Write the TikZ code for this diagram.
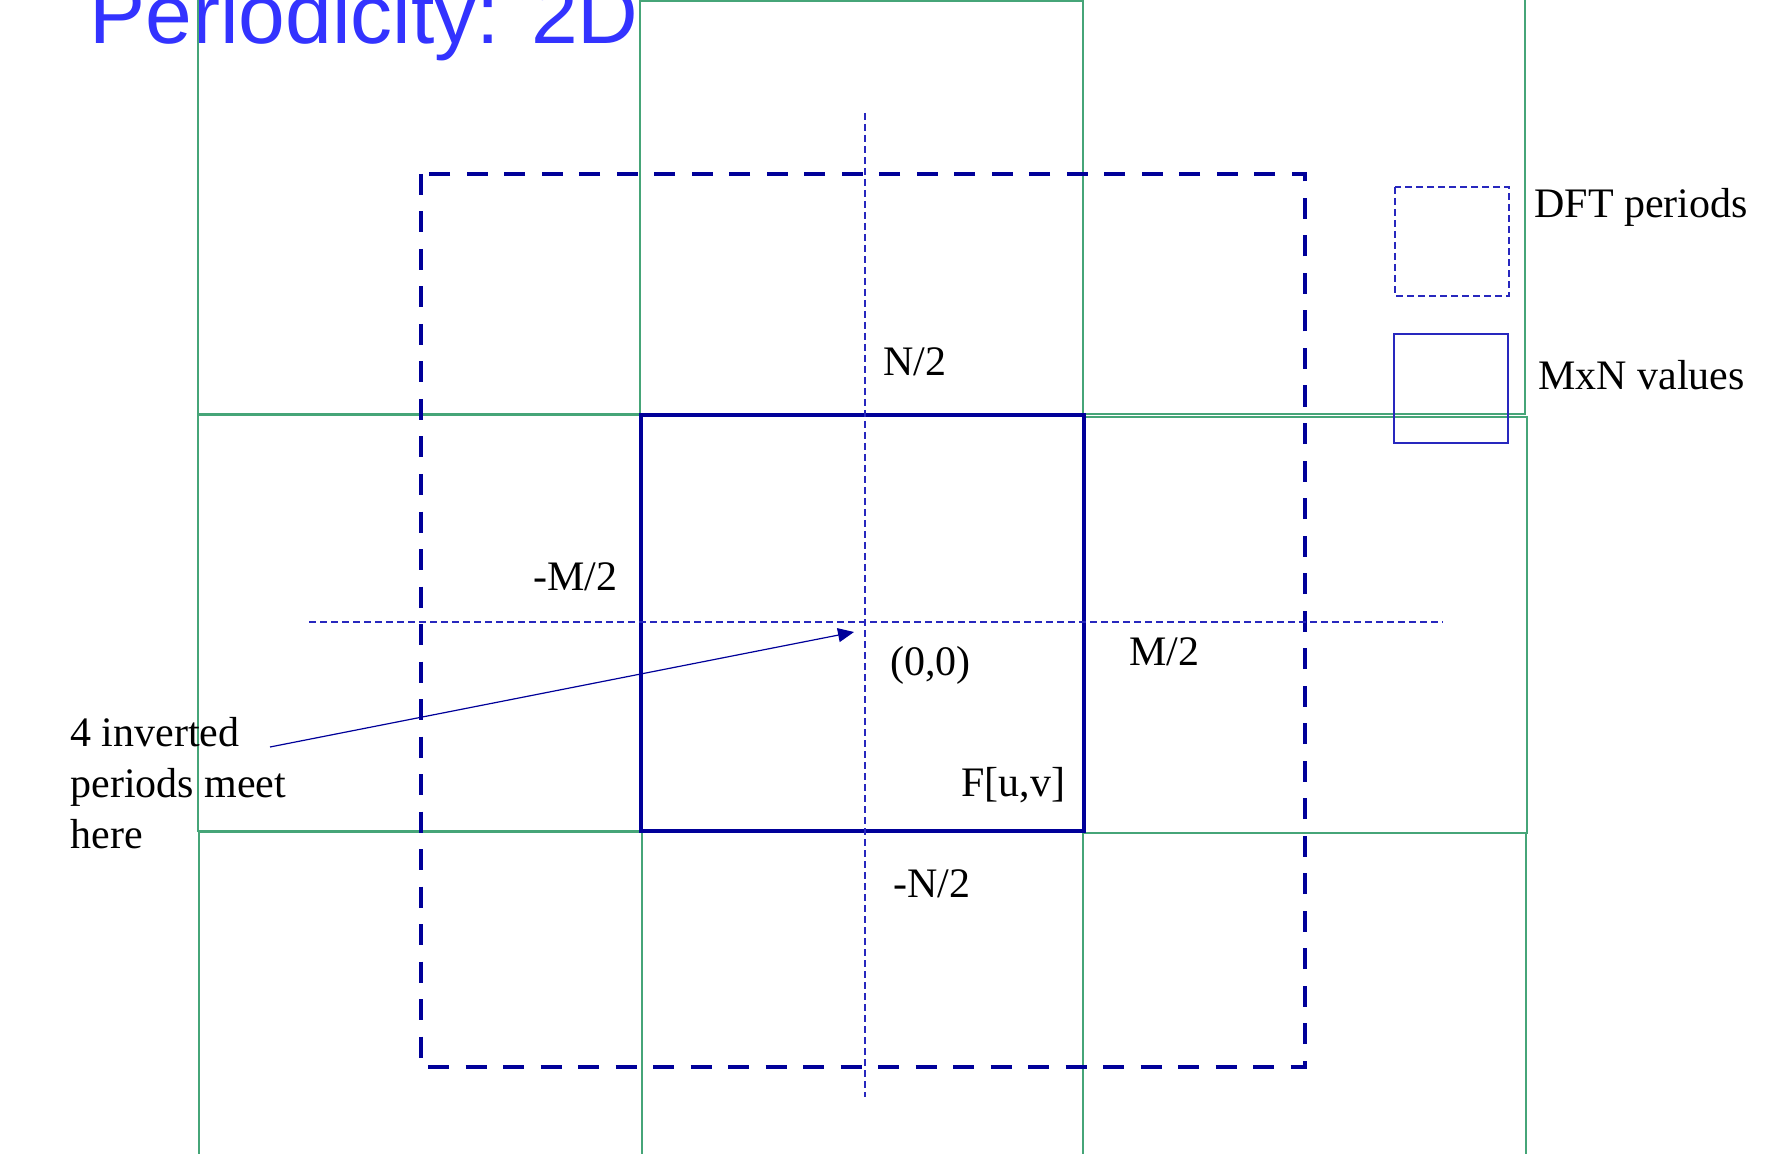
\documentclass[tikz,border=0pt]{standalone}
\usepackage{fontspec}
\setmainfont{Liberation Serif}
\newfontfamily\titlefont{Liberation Sans}
\usetikzlibrary{arrows.meta}
\definecolor{tilegreen}{RGB}{70,165,120}
\definecolor{navy}{RGB}{0,0,153}
\definecolor{titleblue}{RGB}{51,51,255}
\definecolor{axisblue}{RGB}{40,40,190}

\begin{document}
\begin{tikzpicture}[x=0.5pt, y=-0.5pt,
	every node/.style={font=\fontsize{21}{25.5}\selectfont, inner sep=0pt},
	tile/.style={tilegreen, line width=0.75pt},
	period/.style={navy, line width=2.4pt, dash pattern=on 10.5pt off 8.25pt},
	axis/.style={axisblue, line width=0.55pt, dash pattern=on 3.3pt off 2.2pt}]
	\useasboundingbox (0,0) rectangle (1770,1154);
	\clip (0,0) rectangle (1770,1154);
	\node[font=\titlefont\fontsize{42}{50}\selectfont, text=titleblue, anchor=base west] (title) at (89,44) {Periodicity: 2D};
	\begin{scope}
		\draw[tile] (198,-20) rectangle (640,414);
		\draw[tile] (640,1) rectangle (1083,414);
		\draw[tile] (1083,-20) rectangle (1525,414);
		\draw[tile] (198,415) rectangle (641,831);
		\draw[tile] (641,415) rectangle (1084,831);
		\draw[tile] (1083,417) rectangle (1527,833);
		\draw[tile] (199,832) rectangle (642,1180);
		\draw[tile] (642,832) rectangle (1083,1180);
		\draw[tile] (1083,833) rectangle (1526,1180);
	\end{scope}
	\draw[period] (421,174) rectangle (1305,1067);
	\draw[navy, line width=1.75pt] (641,415) rectangle (1084,831);
	\draw[axis] (309,622) -- (1443,622);
	\draw[axis] (865,113) -- (865,1097);
	\begin{scope}
		\draw[axis] (1395,187) rectangle (1509,296);
		\draw[axisblue, line width=0.6pt] (1394,334) rectangle (1508,443);
		\node[anchor=base west] (dftlabel) at (1534,218) {DFT periods};
		\node[anchor=base west] (mnlabel) at (1538,390) {MxN values};
	\end{scope}
	\node[anchor=base west] (ntop) at (883,376) {N/2};
	\node[anchor=base east] (mleft) at (618,590) {-M/2};
	\node[anchor=base west] (zerolabel) at (890,675) {(0,0)};
	\node[anchor=base west] (mright) at (1129,665) {M/2};
	\node[anchor=base west] (fuv) at (961,796) {F[u,v]};
	\node[anchor=base west] (nbottom) at (893,897) {-N/2};
	\node[anchor=base west, align=left] (note) at (70,848) {4 inverted\\periods meet\\here};
	\coordinate (tail) at (270,747);
	\coordinate (meet) at (854,632);
	\draw[navy, line width=0.6pt, -{Triangle[length=8pt,width=7pt]}] (tail) -- (meet);
\end{tikzpicture}
\end{document}
